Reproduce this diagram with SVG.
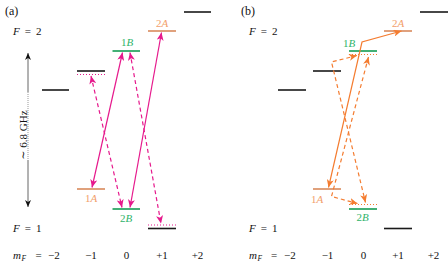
<svg xmlns="http://www.w3.org/2000/svg" width="448" height="265" viewBox="0 0 448 265" font-family="'Liberation Serif', 'DejaVu Serif', serif">
<style>
text{font-family:'Liberation Serif','DejaVu Serif',serif;font-size:11px;fill:#111}
.it{font-style:italic}
.lv{stroke:#1a1a1a;stroke-width:1.6;fill:none}
.lvA{stroke:#d98a5c;stroke-width:1.6;fill:none}
.lvB{stroke:#2fa866;stroke-width:1.8;fill:none}
.tA{fill:#f2a06c}
.tB{fill:#2fb36a}
.dotM{stroke:#e6198c;stroke-width:1.2;stroke-dasharray:1 2;fill:none}
.dotO{stroke:#f47c30;stroke-width:1.2;stroke-dasharray:1 2;fill:none}
.m{stroke:#e6198c;stroke-width:1.2;fill:none;marker-start:url(#am);marker-end:url(#am)}
.o{stroke:#f47c30;stroke-width:1.2;fill:none;marker-start:url(#ao);marker-end:url(#ao)}
.d{stroke-dasharray:4 3}
.num{text-anchor:middle}
</style>
<defs>
<marker id="am" markerUnits="userSpaceOnUse" markerWidth="9" markerHeight="7" refX="8" refY="3.5" orient="auto-start-reverse" viewBox="0 0 9 7">
<path d="M0,0 L8,3.5 L0,7 L2.2,3.5 z" fill="#e6198c"/>
</marker>
<marker id="ao" markerUnits="userSpaceOnUse" markerWidth="9" markerHeight="7" refX="8" refY="3.5" orient="auto-start-reverse" viewBox="0 0 9 7">
<path d="M0,0 L8,3.5 L0,7 L2.2,3.5 z" fill="#f47c30"/>
</marker>
<marker id="ak" markerUnits="userSpaceOnUse" markerWidth="8" markerHeight="6" refX="7" refY="3" orient="auto-start-reverse" viewBox="0 0 8 6">
<path d="M0,0 L7,3 L0,6 L2,3 z" fill="#111"/>
</marker>
</defs>

<!-- Panel (a) -->
<g id="panel-a-labels">
<text x="5" y="15" style="font-size:12px">(a)</text>
<text x="13" y="35"><tspan class="it">F</tspan><tspan dx="5">=</tspan><tspan dx="5">2</tspan></text>
<text x="13" y="232"><tspan class="it">F</tspan><tspan dx="5">=</tspan><tspan dx="5">1</tspan></text>
<text y="259"><tspan x="13" class="it">m</tspan><tspan x="21.5" dy="2" class="it" style="font-size:7.5px">F</tspan><tspan x="35.5" dy="-2">=</tspan><tspan x="48">−2</tspan></text>
<text x="91" y="259" class="num">−1</text>
<text x="126.5" y="259" class="num">0</text>
<text x="162" y="259" class="num">+1</text>
<text x="197.5" y="259" class="num">+2</text>
</g>
<g id="axis-a">
<line x1="28" y1="92" x2="28" y2="53" stroke="#666" stroke-width="1" marker-end="url(#ak)"/>
<line x1="28" y1="160" x2="28" y2="207" stroke="#666" stroke-width="1" marker-end="url(#ak)"/>
<line x1="28" y1="92" x2="28" y2="160" stroke="#999" stroke-width="1" stroke-dasharray="1 1"/>
<text transform="translate(26.5,135) rotate(-90)" class="num">∼ 6.8 GHz</text>
</g>
<g id="a-F2-m-2"><line class="lv" x1="42" y1="90" x2="69" y2="90"/></g>
<g id="a-F2-m-1"><line class="lv" x1="77" y1="71" x2="105" y2="71"/><line class="dotM" x1="77" y1="74.5" x2="105" y2="74.5"/></g>
<g id="a-1B"><line class="lvB" x1="112.5" y1="51" x2="140" y2="51"/><text x="127" y="46" class="num tB">1<tspan class="it">B</tspan></text></g>
<g id="a-2A"><line class="lvA" x1="148" y1="31" x2="176" y2="31"/><text x="162" y="27" class="num tA">2<tspan class="it">A</tspan></text></g>
<g id="a-F2-m+2"><line class="lv" x1="184" y1="12" x2="211" y2="12"/></g>
<g id="a-1A"><line class="lvA" x1="77" y1="189" x2="105" y2="189"/><text x="91" y="202" class="num tA">1<tspan class="it">A</tspan></text></g>
<g id="a-2B"><line class="lvB" x1="112.5" y1="209" x2="140" y2="209"/><text x="126" y="222" class="num tB">2<tspan class="it">B</tspan></text></g>
<g id="a-F1-m+1"><line class="lv" x1="148" y1="228.5" x2="176" y2="228.5"/><line class="dotM" x1="148" y1="225" x2="176" y2="225"/></g>

<!-- Panel (b) -->
<g id="panel-b-labels">
<text x="241" y="15" style="font-size:12px">(b)</text>
<text x="249" y="35"><tspan class="it">F</tspan><tspan dx="5">=</tspan><tspan dx="5">2</tspan></text>
<text x="249" y="232"><tspan class="it">F</tspan><tspan dx="5">=</tspan><tspan dx="5">1</tspan></text>
<text y="259"><tspan x="249" class="it">m</tspan><tspan x="257.5" dy="2" class="it" style="font-size:7.5px">F</tspan><tspan x="271" dy="-2">=</tspan><tspan x="284">−2</tspan></text>
<text x="327.5" y="259" class="num">−1</text>
<text x="363.5" y="259" class="num">0</text>
<text x="398" y="259" class="num">+1</text>
<text x="433.5" y="259" class="num">+2</text>
</g>
<g id="b-F2-m-2"><line class="lv" x1="278" y1="90" x2="306" y2="90"/></g>
<g id="b-F2-m-1"><line class="lv" x1="313" y1="71" x2="341" y2="71"/></g>
<g id="b-1B"><line class="lvB" x1="349" y1="51" x2="377" y2="51"/><line class="dotO" x1="349" y1="54.5" x2="377" y2="54.5"/><text x="349" y="47" class="num tB">1<tspan class="it">B</tspan></text></g>
<g id="b-2A"><line class="lvA" x1="384" y1="31" x2="412" y2="31"/><text x="398" y="26.5" class="num tA">2<tspan class="it">A</tspan></text></g>
<g id="b-F2-m+2"><line class="lv" x1="420" y1="12" x2="448" y2="12"/></g>
<g id="b-1A"><line class="lvA" x1="313" y1="189" x2="341" y2="189"/><text x="317" y="203" class="num tA">1<tspan class="it">A</tspan></text></g>
<g id="b-2B"><line class="lvB" x1="349" y1="209" x2="377" y2="209"/><line class="dotO" x1="349" y1="204.5" x2="377" y2="204.5"/><text x="362.5" y="221" class="num tB">2<tspan class="it">B</tspan></text></g>
<g id="b-F1-m+1"><line class="lv" x1="384" y1="228.5" x2="412" y2="228.5"/></g>

<g id="connectors">
<line class="m" x1="92" y1="187.5" x2="122.5" y2="52.5"/>
<line class="m d" x1="91" y1="76" x2="122" y2="207.5"/>
<line class="m d" x1="130" y1="52.5" x2="161" y2="223.5"/>
<line class="m" x1="130" y1="207.5" x2="161.5" y2="32.5"/>
<path class="o" d="M328.5,187.5 L362,42 L401.5,31"/>
<path class="o d" d="M357,55.5 L331.5,62 L365.5,202.5"/>
<path class="o d" d="M368.5,57 L331.5,196.5 L357.5,203.5"/>
</g>
</svg>
